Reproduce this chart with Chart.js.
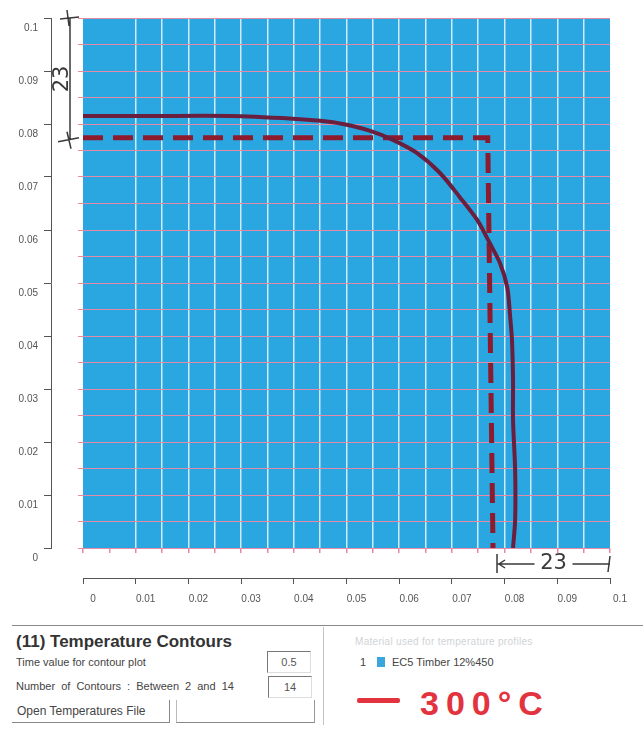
<!DOCTYPE html>
<html>
<head>
<meta charset="utf-8">
<title>Temperature Contours</title>
<script src="https://cdn.jsdelivr.net/npm/chart.js@4"></script>
<style>
    body { margin: 0; background: #fff; font-family: "Liberation Sans", Arial, sans-serif; }
    #wrap { position: relative; width: 643px; height: 751px; overflow: hidden; }
    #contour-chart { position: absolute; left: 0; top: 0; }
    .abs { position: absolute; white-space: nowrap; }
    .sep-h { left: 12px; top: 625px; width: 631px; height: 0; border-top: 1px solid #8a8a8a; }
    .sep-v { left: 323px; top: 627px; width: 0; height: 98px; border-left: 1px solid #c4c4c4; }
    .title { left: 16px; top: 632px; font-size: 17px; font-weight: bold; color: #333; }
    .label { font-size: 11px; color: #444; }
    .box { width: 42px; height: 20px; border-top: 1px solid #777; border-left: 1px solid #777;
           border-right: 1px solid #ddd; border-bottom: 1px solid #ddd;
           font-size: 11px; color: #555; text-align: center; line-height: 20px; }
    .btn { left: 12px; top: 700px; width: 158px; height: 23px; border-right: 1px solid #888;
           border-bottom: 1px solid #888; font-size: 12px; color: #444; line-height: 23px; padding-left: 5px; box-sizing: border-box; }
    .btn2 { left: 176px; top: 700px; width: 139px; height: 23px; border-left: 1px solid #bbb;
            border-right: 1px solid #999; border-bottom: 1px solid #888; box-sizing: border-box; }
    .faint { left: 355px; top: 636px; font-size: 10px; color: #cfd3d6; letter-spacing: 0.3px; }
    .swatch { left: 377px; top: 657px; width: 8px; height: 10px; background: #3aa6dc; }
    .red-dash { left: 357px; top: 698px; width: 43px; height: 5px; background: #e2333f; border-radius: 2px; }
    .red-text { left: 420px; top: 684px; font-size: 34px; font-weight: bold; color: #e2333f; letter-spacing: 7px; }
</style>
</head>
<body>
<div id="wrap">
    <canvas id="contour-chart" width="643" height="618"></canvas>

    <div class="abs sep-h"></div>
    <div class="abs sep-v"></div>
    <div class="abs title">(11) Temperature Contours</div>
    <div class="abs label" style="left:16px; top:656px;">Time value for contour plot</div>
    <div class="abs box" style="left:267px; top:651px;">0.5</div>
    <div class="abs label" style="left:16px; top:680px; word-spacing:3px;">Number of Contours : Between 2 and 14</div>
    <div class="abs box" style="left:268px; top:676px;">14</div>
    <div class="abs btn">Open Temperatures File</div>
    <div class="abs btn2"></div>

    <div class="abs faint">Material used for temperature profiles</div>
    <div class="abs label" style="left:360px; top:656px;">1</div>
    <div class="abs swatch"></div>
    <div class="abs label" style="left:392px; top:656px;">EC5 Timber 12%450</div>
    <div class="abs red-dash"></div>
    <div class="abs red-text">300°C</div>
</div>

<script>
// Contour line (300 °C), metres
const contourX = [0, 0.0127, 0.0279, 0.0398, 0.0450, 0.0493, 0.0545, 0.0588, 0.0634, 0.0677,
                  0.0715, 0.0748, 0.0772, 0.0791, 0.0805, 0.0810, 0.0814, 0.0816, 0.0816, 0.0820, 0.0820, 0.0816];
const contourY = [0.0815, 0.0815, 0.0815, 0.0810, 0.0806, 0.0800, 0.0787, 0.0770, 0.0745, 0.0708,
                  0.0662, 0.0619, 0.0575, 0.0538, 0.0492, 0.0443, 0.0392, 0.0317, 0.0242, 0.0147, 0.0053, 0];

// hand drawn dashed guide (23 mm in from the edges)
const guideX = [0, 0.0768, 0.0778];
const guideY = [0.0774, 0.0774, 0];

const axisMin = 0;
const axisMax = 0.1;
const tickStep = 0.01;
const gridStep = 0.005;
const noteText = '23';

// Colours
const PLOT_BLUE = '#2aa7e0';
const GRID_WHITE = 'rgba(236, 246, 255, 0.85)';
const GRID_PINK = '#e38aa6';
const AXIS_GREY = '#555';
const CURVE_COLOR = '#6a1f3e';
const GUIDE_COLOR = '#8d1b2d';

function toPoints(xs, ys) {
    return xs.map((x, i) => ({ x: x, y: ys[i] }));
}

function formatTick(value) {
    return String(Number(value.toFixed(2)));
}

const plotBackground = {
    id: 'plotBackground',
    beforeDraw(chart) {
        const { ctx, chartArea: a } = chart;
        ctx.save();
        ctx.fillStyle = PLOT_BLUE;
        ctx.fillRect(a.left, a.top, a.width, a.height);
        ctx.restore();
    }
};

// the "23" measurements pencilled on the print
const handNotes = {
    id: 'handNotes',
    afterDraw(chart) {
        const { ctx, chartArea: a, scales } = chart;
        const x = scales.x, y = scales.y;
        ctx.save();
        ctx.strokeStyle = '#3a3a3a';
        ctx.fillStyle = '#3a3a3a';
        ctx.lineWidth = 1.5;
        ctx.font = '21px "DejaVu Sans"';
        ctx.textAlign = 'center';
        ctx.textBaseline = 'middle';

        // vertical one, left of the plot
        const bx = a.left - 13;
        const top = y.getPixelForValue(axisMax);
        const bottom = y.getPixelForValue(guideY[0]) + 2;
        ctx.beginPath();
        ctx.moveTo(bx, top);
        ctx.lineTo(bx, bottom);
        ctx.moveTo(bx - 10, top + 1);
        ctx.lineTo(bx + 9, top - 1);
        ctx.moveTo(bx - 3, top - 8);
        ctx.lineTo(bx - 1, top + 8);
        ctx.moveTo(bx - 12, bottom + 2);
        ctx.lineTo(bx + 9, bottom - 2);
        ctx.moveTo(bx - 3, bottom - 8);
        ctx.lineTo(bx + 1, bottom + 9);
        ctx.stroke();
        ctx.save();
        ctx.translate(bx - 7, (top + bottom) / 2);
        ctx.rotate(-Math.PI / 2);
        ctx.fillText(noteText, 0, 0);
        ctx.restore();

        // horizontal one, under the plot
        const by = a.bottom + 16;
        const left = x.getPixelForValue(guideX[2]) + 4;
        const right = a.right;
        const mid = (left + right) / 2;
        ctx.beginPath();
        ctx.moveTo(left, by - 10);
        ctx.lineTo(left, by + 9);
        ctx.moveTo(right, by - 8);
        ctx.lineTo(right - 2, by + 8);
        ctx.moveTo(left, by);
        ctx.lineTo(mid - 19, by);
        ctx.moveTo(left + 8, by - 4);
        ctx.lineTo(left + 2, by);
        ctx.lineTo(left + 8, by + 4);
        ctx.moveTo(mid + 19, by);
        ctx.lineTo(right, by);
        ctx.stroke();
        ctx.fillText(noteText, mid, by);
        ctx.restore();
    }
};

function drawChart() {
    const ctx = document.getElementById('contour-chart');

    const datasets = [
        {
            label: '300°C',
            data: toPoints(contourX, contourY),
            showLine: true,
            borderColor: CURVE_COLOR,
            borderWidth: 4,
            pointRadius: 0,
            tension: 0.3,
            xAxisID: 'x',
            yAxisID: 'y'
        },
        {
            label: 'guide',
            data: toPoints(guideX, guideY),
            showLine: true,
            borderColor: GUIDE_COLOR,
            borderWidth: 5,
            borderDash: [20, 10],
            pointRadius: 0,
            tension: 0,
            xAxisID: 'x',
            yAxisID: 'y'
        }
    ];

    // x / y carry the data and the 20 x 20 grid, xAxis / yAxis are the separate printed axes
    const scales = {
        x: {
            type: 'linear', position: 'bottom', weight: 0,
            min: axisMin, max: axisMax,
            ticks: { stepSize: gridStep, display: false },
            grid: {
                color: c => (c.index <= 1 || c.index >= 20) ? 'rgba(0,0,0,0)' : GRID_WHITE,
                lineWidth: 1.5,
                tickColor: GRID_PINK,
                tickLength: 5
            },
            border: { display: false },
            afterFit: s => { s.height = 30; }
        },
        y: {
            type: 'linear', position: 'left', weight: 0,
            min: axisMin, max: axisMax,
            ticks: { stepSize: gridStep, display: false },
            grid: { color: GRID_PINK, lineWidth: 1, tickColor: GRID_PINK, tickLength: 5 },
            border: { display: false },
            afterFit: s => { s.width = 32; }
        },
        xAxis: {
            type: 'linear', position: 'bottom', weight: 1,
            min: axisMin, max: axisMax,
            ticks: {
                stepSize: tickStep, autoSkip: false, maxRotation: 0,
                labelOffset: 10, padding: 9,
                color: AXIS_GREY, font: { family: 'Liberation Sans', size: 10 },
                callback: formatTick
            },
            grid: { drawOnChartArea: false, color: AXIS_GREY, tickLength: 6 },
            border: { color: AXIS_GREY, width: 1 },
            afterFit: s => { s.height = 40; }
        },
        yAxis: {
            type: 'linear', position: 'left', weight: 1,
            min: axisMin, max: axisMax,
            ticks: {
                stepSize: tickStep, autoSkip: false,
                labelOffset: 10, padding: 6,
                color: AXIS_GREY, font: { family: 'Liberation Sans', size: 10 },
                callback: formatTick
            },
            grid: { drawOnChartArea: false, color: AXIS_GREY, tickLength: 7 },
            border: { color: AXIS_GREY, width: 1 },
            afterFit: s => { s.width = 51; }
        }
    };

    new Chart(ctx, {
        type: 'scatter',
        data: { datasets },
        options: {
            responsive: false,
            animation: false,
            layout: { padding: { top: 18, right: 33, bottom: 0, left: 0 } },
            plugins: {
                legend: { display: false },
                tooltip: { enabled: false }
            },
            scales
        },
        plugins: [plotBackground, handNotes]
    });
}

document.addEventListener('DOMContentLoaded', drawChart);
</script>
</body>
</html>
